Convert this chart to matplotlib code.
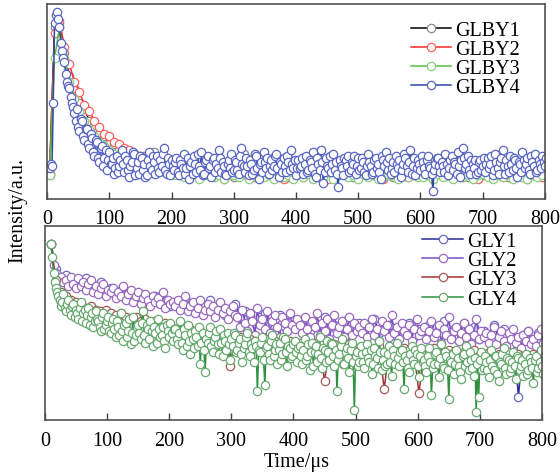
import numpy as np
import matplotlib.pyplot as plt

plt.rcParams['font.family'] = 'Liberation Serif'

# time grids (us)
t_glby4 = np.arange(4, 804, 2)
t_glby = np.arange(4, 801, 8)
t_gly4 = np.arange(10, 810, 2)
t_gly2 = np.arange(10, 810, 4)
t_gly = np.arange(10, 810, 8)

# upper panel, intensity in arbitrary units (0-100)
glby1 = [12, 88, 90, 75, 63, 57, 49, 46, 40, 38, 33, 32, 28, 28, 25, 25, 22, 23, 20, 22, 19, 24, 18, 19, 16,
         15, 12, 17, 13, 19, 11, 14, 16, 12, 18, 13, 15, 11, 17, 23, 12, 14, 16, 13, 18, 12, 15, 17, 11, 14,
         16, 12, 14, 18, 11, 15, 13, 17, 12, 19, 14, 11, 16, 13, 15, 18, 12, 14, 17, 11, 15, 13, 16, 12, 18,
         13, 15, 11, 17, 14, 12, 18, 13, 16, 11, 15, 19, 12, 14, 16, 13, 17, 11, 15, 14, 18, 12, 16, 13, 15]
glby2 = [13, 85, 91, 78, 69, 60, 55, 48, 45, 40, 37, 33, 32, 29, 28, 26, 25, 23, 22, 21, 20, 19, 18, 18, 17,
         14, 16, 12, 15, 18, 11, 13, 17, 12, 15, 10, 14, 16, 12, 13, 18, 11, 15, 13, 17, 12, 14, 10, 16, 13,
         15, 11, 13, 17, 12, 14, 10, 16, 13, 15, 12, 18, 11, 14, 16, 12, 13, 10, 15, 17, 12, 14, 11, 16, 13,
         12, 15, 10, 14, 17, 12, 13, 16, 11, 15, 13, 10, 14, 17, 12, 15, 11, 13, 16, 12, 14, 10, 15, 13, 11]
glby3 = [12, 72, 88, 72, 60, 51, 45, 40, 36, 32, 29, 27, 25, 23, 22, 21, 20, 19, 18, 17, 16, 15, 15, 14, 14,
         12, 13, 11, 12, 14, 10, 12, 13, 11, 12, 10, 13, 12, 11, 14, 10, 12, 13, 11, 12, 10, 13, 11, 12, 10,
         12, 11, 13, 10, 12, 11, 14, 10, 12, 13, 11, 12, 10, 13, 11, 12, 10, 11, 13, 12, 10, 12, 11, 13, 11,
         11, 12, 10, 13, 11, 12, 10, 14, 11, 12, 10, 12, 13, 11, 10, 12, 11, 13, 10, 12, 11, 10, 12, 11, 12]
glby4 = [16, 18, 17, 49, 90, 94, 96, 92, 88, 80, 76, 72, 70, 64, 60, 58, 57, 52, 49, 47, 44, 40, 46, 37, 35,
         41, 40, 32, 30, 36, 36, 28, 26, 33, 31, 24, 22, 30, 29, 21, 19, 26, 27, 17, 21, 25, 15, 20, 24, 18,
         18, 21, 13, 16, 22, 14, 17, 20, 25, 18, 14, 22, 20, 15, 11, 17, 19, 24, 23, 12, 16, 19, 13, 22, 21,
         15, 18, 11, 12, 20, 24, 17, 15, 22, 19, 13, 22, 16, 14, 20, 17, 23, 26, 15, 13, 21, 18, 12, 20, 17,
         15, 19, 21, 14, 12, 20, 18, 16, 23, 13, 16, 21, 10, 17, 19, 13, 22, 18, 14, 23, 17, 15, 24, 12, 13,
         19, 20, 22, 16, 17, 11, 20, 21, 14, 18, 16, 25, 21, 14, 19, 17, 13, 12, 18, 20, 16, 23, 14, 15, 20,
         19, 15, 13, 22, 26, 18, 17, 14, 21, 17, 12, 20, 18, 13, 15, 23, 22, 16, 10, 18, 19, 14, 24, 19, 16,
         21, 13, 17, 20, 15, 17, 22, 23, 16, 11, 19, 18, 14, 21, 17, 14, 22, 19, 15, 25, 18, 16, 20, 12, 16,
         20, 16, 17, 21, 13, 18, 22, 14, 15, 20, 19, 16, 24, 13, 11, 21, 18, 15, 25, 19, 8, 14, 21, 17, 16,
         22, 14, 18, 23, 15, 19, 13, 6, 20, 17, 16, 12, 21, 20, 17, 22, 14, 15, 19, 18, 22, 13, 17, 21, 15,
         16, 21, 19, 14, 12, 17, 23, 19, 17, 13, 14, 20, 21, 16, 18, 14, 10, 22, 20, 17, 24, 19, 15, 21, 13,
         16, 19, 14, 22, 18, 16, 20, 11, 15, 18, 23, 21, 17, 14, 19, 25, 13, 17, 21, 12, 16, 20, 18, 15, 22,
         19, 16, 13, 20, 22, 17, 16, 13, 4, 15, 18, 21, 21, 17, 14, 19, 17, 14, 23, 18, 12, 16, 20, 22, 15,
         19, 18, 13, 24, 17, 11, 20, 26, 21, 16, 18, 22, 15, 13, 20, 18, 16, 20, 13, 14, 19, 20, 15, 17, 21,
         14, 18, 21, 16, 18, 22, 12, 15, 23, 19, 16, 13, 19, 21, 25, 17, 13, 20, 17, 14, 22, 18, 15, 21, 20,
         16, 11, 19, 18, 14, 24, 20, 16, 18, 21, 15, 13, 22, 19, 17, 23, 14, 15, 20, 18, 16, 22, 19, 17, 21]

# lower panel
gly1 = [91, 78, 74, 75, 71, 72, 70, 73, 68, 69, 71, 66, 68, 65, 67, 64, 66, 62, 65, 63, 60, 64, 61, 62, 59,
        61, 58, 63, 57, 60, 56, 59, 62, 55, 58, 54, 57, 60, 53, 56, 54, 50, 53, 55, 49, 52, 54, 48, 51, 50,
        49, 52, 46, 50, 48, 53, 45, 49, 47, 51, 44, 48, 50, 46, 49, 52, 45, 47, 49, 44, 48, 46, 50, 43, 47,
        46, 49, 45, 48, 51, 44, 47, 43, 50, 45, 48, 42, 46, 44, 49, 43, 47, 45, 42, 12, 44, 46, 41, 45, 47]
gly2 = [91, 80, 76, 73, 74, 71, 72, 69, 74, 70, 68, 73, 69, 71, 67, 70, 72, 66, 69, 65, 68, 70, 64, 67, 66,
        68, 63, 66, 64, 69, 62, 65, 67, 61, 64, 66, 60, 63, 65, 62, 59, 64, 61, 63, 60, 66, 58, 62, 60, 61,
        59, 62, 57, 60, 64, 56, 59, 61, 55, 58, 62, 54, 57, 60, 56, 59, 53, 57, 61, 55, 58, 52, 56, 59, 54,
        53, 48, 57, 50, 46, 55, 51, 44, 58, 49, 52, 47, 56, 45, 51, 54, 48, 43, 53, 50, 46, 55, 49, 47, 52,
        49, 45, 53, 47, 43, 51, 48, 55, 44, 50, 46, 52, 42, 49, 54, 45, 48, 51, 43, 47, 53, 44, 50, 46, 48,
        45, 50, 43, 48, 52, 44, 47, 41, 51, 46, 49, 43, 54, 45, 48, 42, 50, 46, 44, 49, 41, 47, 52, 44, 46,
        48, 42, 46, 51, 43, 45, 49, 40, 47, 44, 53, 42, 46, 48, 41, 45, 50, 43, 47, 39, 44, 52, 42, 46, 43,
        45, 40, 44, 48, 39, 43, 46, 41, 38, 45, 42, 47, 40, 43, 37, 44, 41, 46, 39, 42, 38, 44, 47, 40, 43]
gly3 = [91, 72, 66, 64, 62, 61, 60, 58, 59, 57, 56, 57, 55, 54, 55, 53, 52, 53, 51, 52, 50, 51, 49, 50, 49,
        47, 48, 46, 47, 45, 46, 44, 45, 43, 44, 43, 28, 42, 43, 41, 42, 41, 40, 42, 40, 41, 39, 40, 41, 39,
        40, 39, 38, 40, 39, 20, 38, 39, 37, 38, 39, 37, 36, 38, 37, 36, 38, 16, 37, 36, 35, 37, 36, 35, 14,
        36, 35, 37, 35, 34, 36, 35, 33, 35, 34, 36, 33, 34, 35, 32, 34, 33, 35, 32, 34, 33, 32, 34, 33, 33]
gly4 = [91, 84, 76, 71, 68, 66, 64, 62, 59, 61, 65, 58, 56, 60, 62, 57, 54, 59, 60, 53, 57, 55, 52, 58, 61,
        51, 55, 57, 50, 54, 58, 49, 53, 55, 48, 51, 56, 52, 51, 48, 46, 53, 55, 47, 49, 51, 53, 46, 45, 50,
        52, 47, 43, 51, 48, 44, 55, 46, 41, 49, 50, 43, 46, 52, 39, 45, 53, 41, 44, 48, 49, 45, 42, 50, 56,
        44, 40, 49, 47, 42, 51, 46, 38, 48, 45, 40, 52, 47, 43, 44, 48, 41, 37, 49, 46, 43, 50, 45, 41, 47,
        47, 42, 39, 45, 51, 40, 36, 47, 44, 38, 49, 41, 34, 45, 42, 37, 46, 43, 38, 48, 29, 40, 45, 36, 25,
        42, 40, 45, 48, 38, 35, 41, 43, 46, 39, 34, 47, 40, 33, 44, 41, 36, 45, 39, 31, 42, 38, 45, 44, 35,
        36, 40, 42, 34, 30, 37, 39, 43, 45, 35, 33, 39, 37, 30, 41, 38, 15, 36, 35, 40, 43, 31, 18, 37, 38,
        34, 31, 41, 44, 33, 36, 39, 29, 36, 40, 31, 34, 43, 42, 35, 28, 38, 37, 32, 33, 39, 41, 35, 30, 37,
        38, 33, 29, 36, 42, 31, 33, 39, 26, 35, 40, 28, 35, 38, 30, 34, 43, 32, 27, 37, 36, 30, 41, 35, 31,
        40, 39, 33, 28, 36, 15, 31, 34, 38, 42, 29, 29, 35, 37, 32, 25, 36, 40, 30, 5, 33, 35, 28, 30, 38,
        34, 30, 27, 35, 39, 32, 30, 36, 24, 29, 37, 33, 32, 27, 41, 35, 26, 31, 35, 28, 29, 34, 38, 30, 23,
        36, 33, 29, 40, 32, 28, 35, 36, 30, 16, 33, 31, 27, 25, 34, 38, 31, 29, 36, 34, 28, 22, 33, 37, 30,
        31, 28, 25, 33, 37, 30, 13, 27, 29, 34, 35, 29, 22, 32, 39, 28, 27, 35, 33, 26, 11, 31, 30, 34, 24,
        29, 36, 32, 28, 25, 21, 33, 34, 28, 38, 30, 26, 35, 31, 27, 23, 32, 4, 29, 12, 31, 35, 26, 27, 33,
        30, 26, 22, 31, 36, 28, 26, 33, 33, 24, 20, 30, 29, 34, 37, 27, 24, 32, 31, 25, 27, 30, 35, 28, 21,
        33, 32, 26, 28, 31, 23, 29, 34, 24, 26, 32, 30, 27, 19, 31, 33, 25, 27, 30, 36, 28, 24, 33, 31, 27]


def trace(ax, t, y, line, edge, label):
    ax.plot(t, y, color=line, lw=1.1, marker='o', ms=6, mfc='white',
            mec=edge, mew=0.9, label=label)


def style(ax, anchor):
    ax.set_xlim(0, 800)
    ax.set_ylim(0, 100)
    ax.set_yticks([])
    ax.set_xticks(range(0, 801, 100))
    ax.tick_params(axis='x', direction='in', length=5, width=1, labelsize=14.5,
                   pad=7.5, color='#404040')
    for s in ax.spines.values():
        s.set_color('#505050')
        s.set_linewidth(1.2)
    ax.legend(loc='upper right', bbox_to_anchor=anchor, frameon=False, fontsize=14.5,
              handlelength=2.0, labelspacing=0.0, handletextpad=0.2, borderaxespad=0)


fig = plt.figure(figsize=(5.6, 4.77), dpi=100)
ax1 = fig.add_axes([0.084, 0.581, 0.889, 0.409])
ax2 = fig.add_axes([0.080, 0.117, 0.888, 0.407])

trace(ax1, t_glby, glby1, 'black', '#8a8a8a', 'GLBY1')
trace(ax1, t_glby, glby2, '#ff2a2a', '#ff6060', 'GLBY2')
trace(ax1, t_glby, glby3, '#55c040', '#8ad080', 'GLBY3')
trace(ax1, t_glby4, glby4, '#2a4aa8', '#5a66c4', 'GLBY4')
style(ax1, (0.966, 0.954))

trace(ax2, t_gly, gly1, '#2a2a9a', '#6a6ac4', 'GLY1')
trace(ax2, t_gly2, gly2, '#7a50c8', '#9a6ac0', 'GLY2')
trace(ax2, t_gly, gly3, '#a03434', '#a85a5a', 'GLY3')
trace(ax2, t_gly4, gly4, '#2e9040', '#68aa70', 'GLY4')
style(ax2, (0.964, 1.01))

fig.text(0.032, 0.558, 'Intensity/a.u.', rotation=90, ha='center', va='center', fontsize=14.5)
fig.text(0.529, 0.03, 'Time/\u03bcs', ha='center', va='center', fontsize=14.5)

fig.savefig('out.png', dpi=100)
